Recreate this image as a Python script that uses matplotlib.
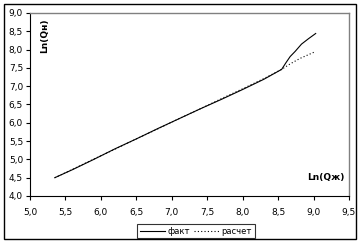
import matplotlib.pyplot as plt
from matplotlib.ticker import FuncFormatter
from matplotlib.patches import Rectangle

# values
fact_x = [5.35, 5.6, 5.9, 6.2, 6.5, 6.8, 7.1, 7.4, 7.7, 8.0, 8.3, 8.55, 8.61, 8.67, 8.74, 8.83, 8.93, 9.03]
fact_y = [4.50, 4.72, 5.00, 5.29, 5.56, 5.84, 6.11, 6.38, 6.64, 6.91, 7.19, 7.46, 7.64, 7.81, 7.95, 8.15, 8.30, 8.44]
calc_x = [5.35, 5.6, 5.9, 6.2, 6.5, 6.8, 7.1, 7.4, 7.7, 8.0, 8.3, 8.55, 8.67, 8.81, 9.02]
calc_y = [4.50, 4.73, 5.01, 5.28, 5.56, 5.83, 6.11, 6.38, 6.66, 6.93, 7.21, 7.46, 7.61, 7.76, 7.94]

x_ticks = [5.0, 5.5, 6.0, 6.5, 7.0, 7.5, 8.0, 8.5, 9.0, 9.5]
y_ticks = [4.0, 4.5, 5.0, 5.5, 6.0, 6.5, 7.0, 7.5, 8.0, 8.5, 9.0]

fig = plt.figure(figsize=(3.6, 2.44), dpi=100)
ax = fig.add_axes([30 / 360, 1 - 196 / 244, 319 / 360, 183 / 244])

ax.plot(fact_x, fact_y, color="black", lw=0.8, label="факт")
ax.plot(calc_x, calc_y, color="black", lw=0.8, ls=(0, (1, 2)), label="расчет")

ax.set_xlim(5.0, 9.5)
ax.set_ylim(4.0, 9.0)
ax.set_xticks(x_ticks)
ax.set_yticks(y_ticks)
fmt = FuncFormatter(lambda v, p: f"{v:.1f}".replace(".", ","))
ax.xaxis.set_major_formatter(fmt)
ax.yaxis.set_major_formatter(fmt)
ax.tick_params(direction="out", length=3, width=0.8, labelsize=6.5, pad=2)
ax.tick_params(axis="x", pad=6)

for s in ["top", "right"]:
    ax.spines[s].set_color("gray")
    ax.spines[s].set_linewidth(1.0)
for s in ["left", "bottom"]:
    ax.spines[s].set_color("black")
    ax.spines[s].set_linewidth(0.8)

ax.text(0.045, 0.97, "Ln(Qн)", transform=ax.transAxes, rotation=90,
        ha="center", va="top", fontsize=6.5, fontweight="bold")
ax.text(0.985, 0.1, "Ln(Qж)", transform=ax.transAxes,
        ha="right", va="center", fontsize=6.5, fontweight="bold")

leg = fig.legend(loc="lower center", bbox_to_anchor=(196 / 360, 6 / 244), ncol=2,
                 fontsize=6, frameon=True, fancybox=False, edgecolor="black",
                 handlelength=3, handletextpad=0.3, columnspacing=0.5,
                 borderpad=0.3, borderaxespad=0)
leg.get_frame().set_linewidth(0.8)

fig.patches.append(Rectangle((4 / 360, 5 / 244), 352 / 360, 235 / 244,
                             transform=fig.transFigure, fill=False,
                             edgecolor="black", lw=1.0))

fig.savefig("out.png", dpi=100)
